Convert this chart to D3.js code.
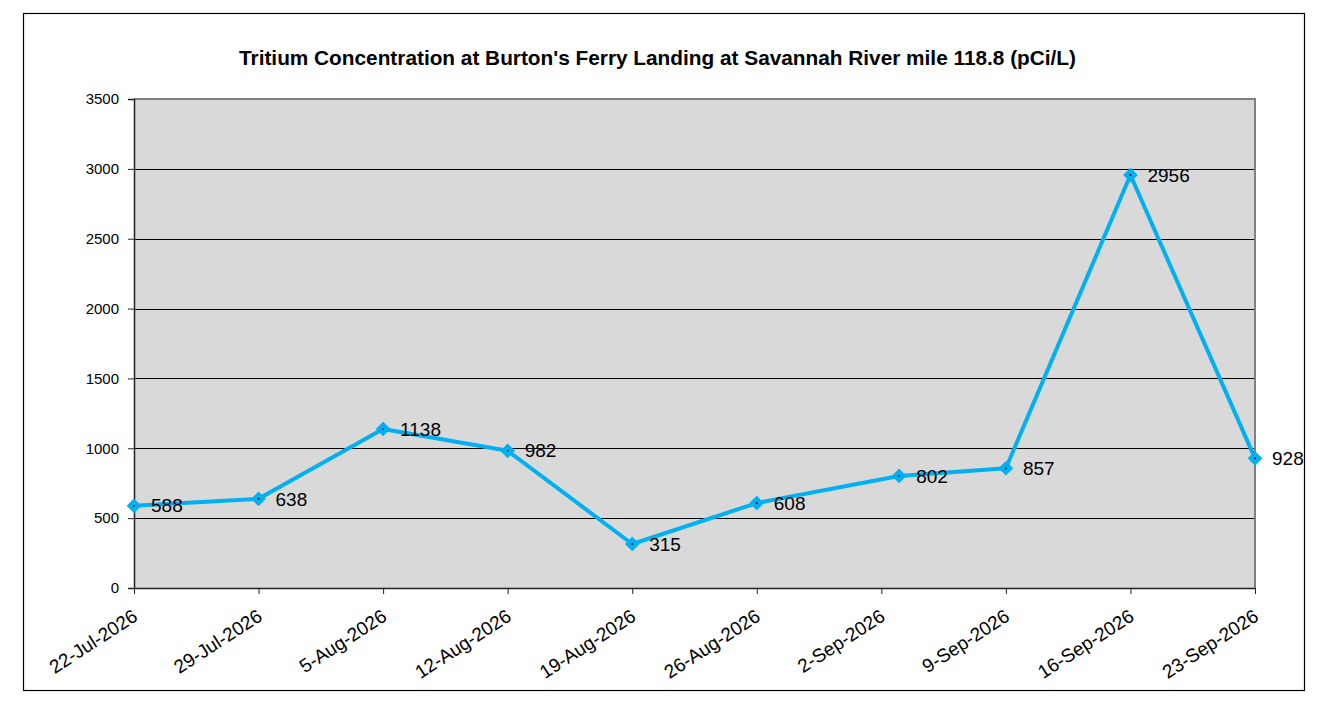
<!DOCTYPE html>
<html>
<head>
<meta charset="utf-8">
<script src="https://cdn.jsdelivr.net/npm/d3@7"></script>
<style>
  html, body { margin: 0; padding: 0; background: #fff; }
  svg { display: block; font-family: 'Liberation Sans', Arial, sans-serif; }
</style>
</head>
<body>
<div id="chart"></div>
<script>
const chartTitle = "Tritium Concentration at Burton's Ferry Landing at Savannah River mile 118.8 (pCi/L)";
const sampleDates = ['2026-07-22', '2026-07-29', '2026-08-05', '2026-08-12', '2026-08-19',
                     '2026-08-26', '2026-09-03', '2026-09-09', '2026-09-16', '2026-09-23'];
const tritiumValues = [588, 638, 1138, 982, 315, 608, 802, 857, 2956, 928];
const tickDates = ['2026-07-22', '2026-07-29', '2026-08-05', '2026-08-12', '2026-08-19',
                   '2026-08-26', '2026-09-02', '2026-09-09', '2026-09-16', '2026-09-23'];
const yTicks = [0, 500, 1000, 1500, 2000, 2500, 3000, 3500];

const parse = d3.timeParse('%Y-%m-%d');
const fmt = d3.timeFormat('%-d-%b-%Y');

const data = sampleDates.map((d, i) => ({ date: parse(d), value: tritiumValues[i] }));

const W = 1343, H = 711;
const plot = { left: 134, right: 1255, top: 99, bottom: 588 };
const FONT = "'Liberation Sans', Arial, sans-serif";

const svg = d3.select('#chart').append('svg')
    .attr('width', W)
    .attr('height', H);

// outer frame
svg.append('rect')
    .attr('x', 23.5).attr('y', 13.5)
    .attr('width', 1281).attr('height', 677)
    .attr('fill', '#fff')
    .attr('stroke', '#000')
    .attr('stroke-width', 1.2);

const x = d3.scaleTime()
    .domain([parse(tickDates[0]), parse(tickDates[tickDates.length - 1])])
    .range([plot.left, plot.right]);

const y = d3.scaleLinear()
    .domain([0, 3500])
    .range([plot.bottom, plot.top]);

// plot background
svg.append('rect')
    .attr('x', plot.left).attr('y', plot.top)
    .attr('width', plot.right - plot.left)
    .attr('height', plot.bottom - plot.top)
    .attr('fill', '#d9d9d9');

// gridlines
svg.append('g')
    .selectAll('line')
    .data(yTicks.filter(t => t > 0 && t < 3500))
    .join('line')
    .attr('x1', plot.left).attr('x2', plot.right)
    .attr('y1', d => Math.round(y(d)) + 0.5).attr('y2', d => Math.round(y(d)) + 0.5)
    .attr('stroke', '#000')
    .attr('stroke-width', 1);

// top and right borders (gray)
svg.append('path')
    .attr('d', `M${plot.left},${plot.top}H${plot.right}V${plot.bottom}`)
    .attr('fill', 'none')
    .attr('stroke', '#808080')
    .attr('stroke-width', 2);

// y axis
const yAxis = svg.append('g')
    .attr('transform', `translate(${plot.left},0)`)
    .call(d3.axisLeft(y).tickValues(yTicks).tickFormat(d3.format('d')).tickSize(6).tickPadding(9));
yAxis.select('.domain').attr('stroke', '#222').attr('stroke-width', 1.5);
yAxis.selectAll('.tick line').attr('stroke', '#222');
yAxis.selectAll('.tick text')
    .attr('fill', '#000')
    .style('font-size', '15px')
    .style('font-family', FONT);

// x axis
const xAxis = svg.append('g')
    .attr('transform', `translate(0,${plot.bottom})`)
    .call(d3.axisBottom(x).tickValues(tickDates.map(parse)).tickFormat(fmt).tickSize(6).tickSizeOuter(0));
xAxis.select('.domain').attr('stroke', '#222').attr('stroke-width', 1.5);
xAxis.selectAll('.tick line').attr('stroke', '#222');
xAxis.selectAll('.tick text')
    .attr('fill', '#000')
    .attr('text-anchor', 'end')
    .attr('x', 0).attr('y', 0).attr('dy', '0.72em')
    .attr('transform', 'translate(-3,20) rotate(-33)')
    .style('font-size', '19px')
    .style('font-family', FONT);

// series line
const lineColor = '#00b0f0';
svg.append('path')
    .datum(data)
    .attr('fill', 'none')
    .attr('stroke', lineColor)
    .attr('stroke-width', 4)
    .attr('stroke-linejoin', 'round')
    .attr('d', d3.line().x(d => x(d.date)).y(d => y(d.value)));

// markers
const markers = svg.append('g')
    .selectAll('g')
    .data(data)
    .join('g')
    .attr('transform', d => `translate(${x(d.date)},${y(d.value)})`);

markers.append('path')
    .attr('d', d3.symbol(d3.symbolDiamond2, 90)())
    .attr('fill', lineColor)
    .attr('stroke', lineColor)
    .attr('stroke-width', 2);

markers.append('circle')
    .attr('r', 1)
    .attr('fill', '#1a1a40');

// data labels
svg.append('g')
    .selectAll('text')
    .data(data)
    .join('text')
    .attr('x', d => x(d.date) + 17)
    .attr('y', d => y(d.value))
    .attr('dy', '0.35em')
    .style('font-size', '19px')
    .attr('fill', '#000')
    .text(d => d.value);

// title
svg.append('text')
    .attr('x', 657.5)
    .attr('y', 65)
    .attr('text-anchor', 'middle')
    .style('font-size', '20.8px')
    .style('font-weight', 'bold')
    .attr('fill', '#000')
    .text(chartTitle);
</script>
</body>
</html>
